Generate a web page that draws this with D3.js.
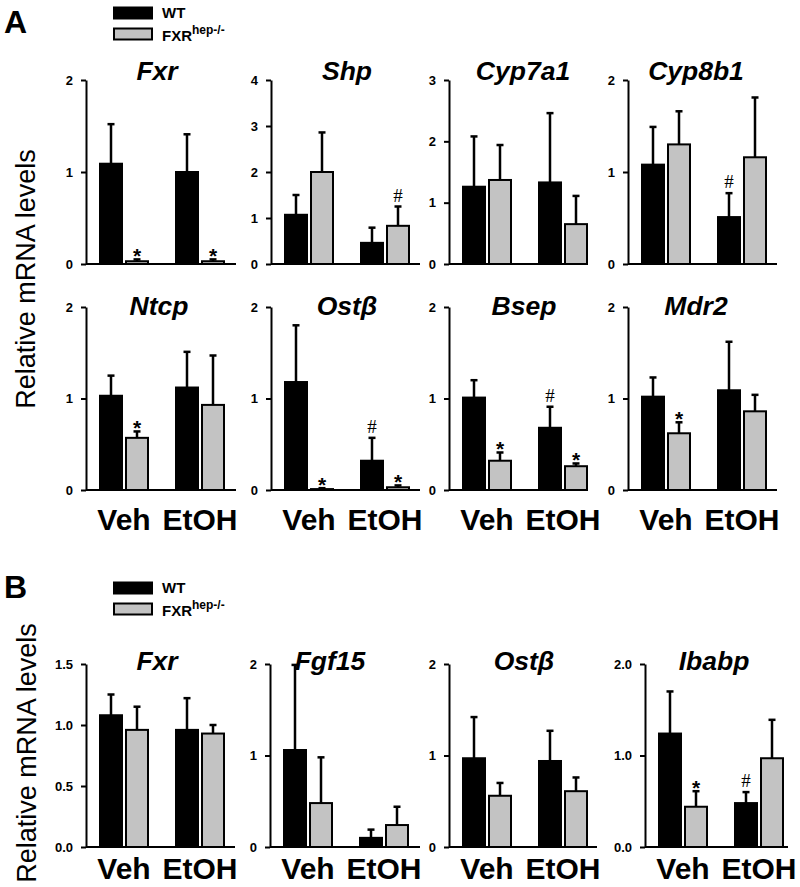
<!DOCTYPE html>
<html>
<head>
<meta charset="utf-8">
<script src="https://cdn.jsdelivr.net/npm/d3@7"></script>
<style>
  body { margin: 0; background: #fff; }
  svg { display: block; font-family: "Liberation Sans", Arial, sans-serif; }
</style>
</head>
<body>
<svg id="chart" width="800" height="887"></svg>
<script>
// ---------------- DATA ----------------
const groups = ["Veh", "EtOH"];
const series = ["WT", "FXRhep-/-"];

// Panel A (liver) genes; values order per gene: [WT Veh, FXR Veh, WT EtOH, FXR EtOH]
const genesA = ["Fxr", "Shp", "Cyp7a1", "Cyp8b1", "Ntcp", "Ostβ", "Bsep", "Mdr2"];
const meanA = [
  [1.09, 0.03, 1.00, 0.03],
  [1.07, 2.00, 0.46, 0.83],
  [1.26, 1.37, 1.33, 0.65],
  [1.08, 1.30, 0.51, 1.16],
  [1.03, 0.57, 1.12, 0.93],
  [1.18, 0.01, 0.32, 0.03],
  [1.01, 0.32, 0.68, 0.26],
  [1.02, 0.62, 1.09, 0.86]
];
const errA = [
  [0.43, 0.02, 0.41, 0.02],
  [0.43, 0.86, 0.33, 0.42],
  [0.82, 0.57, 1.13, 0.46],
  [0.41, 0.36, 0.26, 0.65],
  [0.22, 0.07, 0.39, 0.54],
  [0.62, 0.01, 0.25, 0.02],
  [0.19, 0.09, 0.23, 0.03],
  [0.21, 0.12, 0.53, 0.18]
];
const marksA = [
  ["", "*", "", "*"],
  ["", "", "", "#"],
  ["", "", "", ""],
  ["", "", "#", ""],
  ["", "*", "", ""],
  ["", "*", "#", "*"],
  ["", "*", "#", "*"],
  ["", "*", "", ""]
];
const yMaxA = [2, 4, 3, 2, 2, 2, 2, 2];
const ticksA = [[0,1,2],[0,1,2,3,4],[0,1,2,3],[0,1,2],[0,1,2],[0,1,2],[0,1,2],[0,1,2]];

// Panel B (ileum) genes
const genesB = ["Fxr", "Fgf15", "Ostβ", "Ibabp"];
const meanB = [
  [1.08, 0.96, 0.96, 0.93],
  [1.06, 0.48, 0.10, 0.24],
  [0.97, 0.56, 0.94, 0.61],
  [1.24, 0.44, 0.48, 0.97]
];
const errB = [
  [0.17, 0.19, 0.26, 0.07],
  [0.93, 0.50, 0.09, 0.20],
  [0.45, 0.14, 0.33, 0.15],
  [0.46, 0.17, 0.12, 0.42]
];
const marksB = [
  ["", "", "", ""],
  ["", "", "", ""],
  ["", "", "", ""],
  ["", "*", "#", ""]
];
const yMaxB = [1.5, 2, 2, 2];
const ticksB = [[0, 0.5, 1.0, 1.5], [0,1,2], [0,1,2], [0, 1.0, 2.0]];
const tickFmtB = [".1f", "d", "d", ".1f"];

// ---------------- LAYOUT ----------------
const svg = d3.select("#chart");
const FONT = "'Liberation Sans', Arial, sans-serif";
const GRAY = "#c3c3c3";

const colsA = [86, 271, 449, 628];
const lensA = [150, 149, 139, 149];
const rowsA = [[80, 264, 80], [307, 490, 315]]; // top, bottom, title baseline
const titleXA = [157, 347, 523, 696, 159, 347, 524, 696];

const colsB = [86, 270, 449, 645];
const lensB = [149, 150, 148, 143];
const rowB = [664, 847, 670];
const titleXB = [157, 330, 524, 714];

function drawPanel(ax, len, top, bottom, titleBase, titleX, name, means, errs, marks, yMax, ticks, fmt, showGroups, groupBase) {
  const g = svg.append("g");
  const y = d3.scaleLinear().domain([0, yMax]).range([bottom, top]);
  const gx = d3.scaleBand().domain(groups).range([ax + 14, ax + 138]).paddingInner(28 / 76).paddingOuter(0);
  const sx = d3.scaleBand().domain(series).range([0, gx.bandwidth()]).paddingInner(0.154);

  const items = [];
  groups.forEach((grp, gi) => series.forEach((s, si) => {
    const k = gi * 2 + si;
    items.push({ grp, s, v: means[k], e: errs[k], m: marks[k] });
  }));

  // bars
  g.selectAll("rect.bar").data(items).enter().append("rect")
    .attr("x", d => gx(d.grp) + sx(d.s))
    .attr("y", d => y(d.v))
    .attr("width", sx.bandwidth())
    .attr("height", d => y(0) - y(d.v))
    .attr("fill", d => d.s === "WT" ? "#000" : GRAY)
    .attr("stroke", "#000").attr("stroke-width", 2);

  // error bars (upper only)
  const cx = d => gx(d.grp) + sx(d.s) + sx.bandwidth() / 2;
  g.selectAll("line.err").data(items).enter().append("line")
    .attr("x1", cx).attr("x2", cx)
    .attr("y1", d => y(d.v)).attr("y2", d => y(d.v + d.e))
    .attr("stroke", "#000").attr("stroke-width", 2.5);
  g.selectAll("line.cap").data(items).enter().append("line")
    .attr("x1", d => cx(d) - 3.5).attr("x2", d => cx(d) + 3.5)
    .attr("y1", d => y(d.v + d.e)).attr("y2", d => y(d.v + d.e))
    .attr("stroke", "#000").attr("stroke-width", 2.5);

  // significance marks
  g.selectAll("text.mark").data(items.filter(d => d.m)).enter().append("text")
    .attr("x", cx)
    .attr("y", d => d.m === "*" ? y(d.v + d.e) + 4 : y(d.v + d.e) - 5)
    .attr("text-anchor", "middle")
    .attr("fill", "#000")
    .style("font-family", d => d.m === "*" ? FONT : "'Liberation Serif', 'Times New Roman', serif")
    .style("font-weight", d => d.m === "*" ? "bold" : "normal")
    .style("font-size", d => d.m === "*" ? "21px" : "19px")
    .text(d => d.m);

  // y axis
  const axis = d3.axisLeft(y).tickValues(ticks).tickSize(5).tickSizeOuter(0).tickPadding(8)
    .tickFormat(d3.format(fmt));
  const ag = g.append("g").attr("transform", `translate(${ax},0)`).call(axis);
  ag.select(".domain").attr("stroke-width", 2);
  ag.selectAll(".tick line").attr("stroke-width", 2);
  ag.selectAll(".tick text").style("font-size", "13px").style("font-weight", "bold")
    .style("font-family", FONT).attr("fill", "#000");

  // x baseline
  g.append("line").attr("x1", ax).attr("x2", ax + len)
    .attr("y1", y(0)).attr("y2", y(0))
    .attr("stroke", "#000").attr("stroke-width", 2);

  // title
  g.append("text").attr("x", titleX).attr("y", titleBase)
    .attr("text-anchor", "middle")
    .style("font-size", "26.5px").style("font-weight", "bold").style("font-style", "italic")
    .text(name);

  if (showGroups) {
    g.selectAll("text.grp").data(groups).enter().append("text")
      .attr("x", d => gx(d) + gx.bandwidth() / 2)
      .attr("y", groupBase)
      .attr("text-anchor", "middle")
      .style("font-size", "30px").style("font-weight", "bold")
      .text(d => d);
  }
}

genesA.forEach((name, i) => {
  const col = i % 4, row = Math.floor(i / 4);
  const [top, bottom, tb] = rowsA[row];
  drawPanel(colsA[col], lensA[col], top, bottom, tb, titleXA[i], name, meanA[i], errA[i], marksA[i],
    yMaxA[i], ticksA[i], "d", row === 1, 530);
});
genesB.forEach((name, i) => {
  drawPanel(colsB[i], lensB[i], rowB[0], rowB[1], rowB[2], titleXB[i], name, meanB[i], errB[i], marksB[i],
    yMaxB[i], ticksB[i], tickFmtB[i], true, 879);
});

// panel letters
svg.append("text").attr("x", 4).attr("y", 33).style("font-size", "32px").style("font-weight", "bold").text("A");
svg.append("text").attr("x", 4).attr("y", 598).style("font-size", "32px").style("font-weight", "bold").text("B");

// y labels
[[26, 279], [27, 753]].forEach(([x, yc]) => {
  svg.append("text").attr("transform", `translate(${x + 9},${yc}) rotate(-90)`)
    .attr("text-anchor", "middle")
    .style("font-size", "27px")
    .text("Relative mRNA levels");
});

// legends
function legend(topY) {
  const lg = svg.append("g");
  series.forEach((s, i) => {
    const yy = topY + i * 21;
    lg.append("rect").attr("x", 114).attr("y", yy).attr("width", 38).attr("height", 11)
      .attr("fill", i === 0 ? "#000" : GRAY).attr("stroke", "#000").attr("stroke-width", 2);
    const t = lg.append("text").attr("x", 162).attr("y", yy + 11 + (i === 1 ? 1 : -1))
      .style("font-size", "15px").style("font-weight", "bold");
    if (i === 0) t.text("WT");
    else {
      t.append("tspan").text("FXR");
      t.append("tspan").attr("dy", -7).style("font-size", "12px").text("hep-/-");
    }
  });
}
legend(7.5);
legend(582.5);
</script>
</body>
</html>
